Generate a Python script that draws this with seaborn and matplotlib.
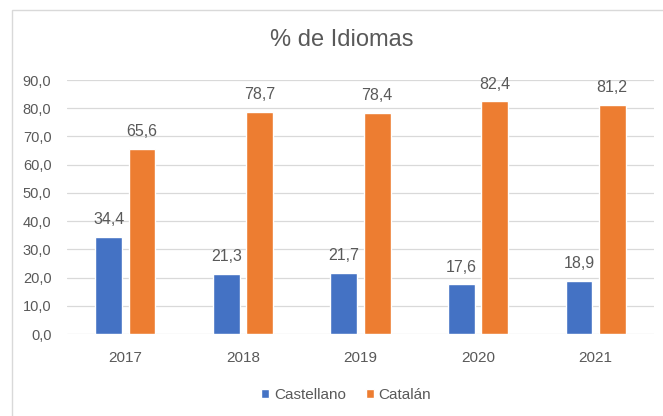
import pandas as pd
import matplotlib.pyplot as plt
import matplotlib.patches as mpatches
import seaborn as sns

# chart values
years = ['2017', '2018', '2019', '2020', '2021']
castellano = [34.4, 21.3, 21.7, 17.6, 18.9]
catalan = [65.6, 78.7, 78.4, 82.4, 81.2]
series_names = ['Castellano', 'Catalán']
colors = ['#4472C4', '#ED7D31']
y_ticks = [0, 10, 20, 30, 40, 50, 60, 70, 80, 90]

df = pd.DataFrame({
    'year': years * 2,
    'value': castellano + catalan,
    'idioma': [series_names[0]] * len(years) + [series_names[1]] * len(years),
})

sns.set_style('white')
plt.rcParams['font.family'] = ['Liberation Sans Narrow', 'Liberation Sans', 'DejaVu Sans']
text_color = '#595959'
grid_color = '#D9D9D9'

fig = plt.figure(figsize=(6.63, 4.16), dpi=100)
ax = fig.add_axes([66.7 / 663, 1 - 334 / 416, (654.3 - 66.7) / 663, (334 - 80) / 416])

sns.barplot(data=df, x='year', y='value', hue='idioma', hue_order=series_names,
            palette=colors, width=0.568, gap=0.2, saturation=1, ax=ax)

ax.set_ylim(0, 90)
ax.set_yticks(y_ticks)
ax.set_yticklabels([f'{t:.1f}'.replace('.', ',') for t in y_ticks])
ax.set_xlabel('')
ax.set_ylabel('')
ax.yaxis.grid(True, color=grid_color, linewidth=0.9)
ax.set_axisbelow(True)
for s in ax.spines.values():
    s.set_visible(False)
ax.tick_params(axis='y', length=0, pad=11, labelsize=10.5, labelcolor=text_color)
ax.tick_params(axis='x', length=0, pad=12, labelsize=11, labelcolor=text_color)

# data labels
for cont in ax.containers:
    labels = [f'{b.get_height():.1f}'.replace('.', ',') for b in cont]
    ax.bar_label(cont, labels=labels, padding=7, fontsize=11.5, color=text_color, clip_on=False)

# legend at the bottom
handles, labels = ax.get_legend_handles_labels()
ax.get_legend().remove()
fig.legend(handles, labels, loc='center', bbox_to_anchor=(346 / 663, 1 - 395 / 416),
           ncol=2, frameon=False, fontsize=11, labelcolor=text_color,
           handlelength=0.55, handleheight=0.55, handletextpad=0.3, columnspacing=1.3)

fig.text(342 / 663, 1 - 40.5 / 416, '% de Idiomas', ha='center', va='center',
         fontsize=17, color=text_color)

# chart area border (cut off at right and bottom like the screenshot)
border = mpatches.Rectangle((11.5 / 663, -0.1), 1.2, 1 - 10 / 416 + 0.1, transform=fig.transFigure,
                            fill=False, edgecolor=grid_color, linewidth=1.0, clip_on=False)
fig.patches.append(border)

fig.savefig('out.png', dpi=100)
